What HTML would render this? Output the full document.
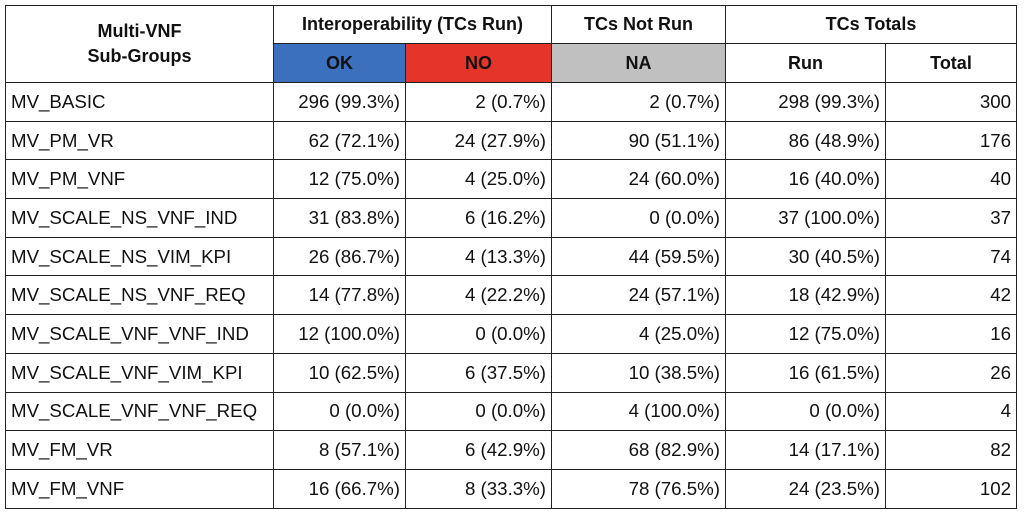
<!DOCTYPE html>
<html><head><style>
body{margin:0;background:#fff;width:1024px;height:516px;overflow:hidden}
table{position:absolute;left:5px;top:5px;border-collapse:collapse;font-family:"Liberation Sans",sans-serif;font-size:18.7px;color:#111}
td{border:1.5px solid #222;padding:0 5px;height:37.7px;white-space:nowrap;text-align:right}
td.l{text-align:left}
th{border:1.5px solid #222;font-weight:bold;font-size:18px;padding:0}
tr.h1 th{height:37px}
tr.h2 th{height:38px}
</style></head><body>
<table>
<colgroup><col style="width:268px"><col style="width:132px"><col style="width:146px"><col style="width:174px"><col style="width:160px"><col style="width:131px"></colgroup>
<tr class="h1"><th rowspan="2" style="vertical-align:middle;line-height:25px">Multi-VNF<br>Sub-Groups</th><th colspan="2">Interoperability (TCs Run)</th><th>TCs Not Run</th><th colspan="2">TCs Totals</th></tr>
<tr class="h2"><th style="background:#3a70bd">OK</th><th style="background:#e5352b">NO</th><th style="background:#c0c0c0">NA</th><th>Run</th><th>Total</th></tr>
<tr><td class="l">MV_BASIC</td><td>296 (99.3%)</td><td>2 (0.7%)</td><td>2 (0.7%)</td><td>298 (99.3%)</td><td>300</td></tr>
<tr><td class="l">MV_PM_VR</td><td>62 (72.1%)</td><td>24 (27.9%)</td><td>90 (51.1%)</td><td>86 (48.9%)</td><td>176</td></tr>
<tr><td class="l">MV_PM_VNF</td><td>12 (75.0%)</td><td>4 (25.0%)</td><td>24 (60.0%)</td><td>16 (40.0%)</td><td>40</td></tr>
<tr><td class="l">MV_SCALE_NS_VNF_IND</td><td>31 (83.8%)</td><td>6 (16.2%)</td><td>0 (0.0%)</td><td>37 (100.0%)</td><td>37</td></tr>
<tr><td class="l">MV_SCALE_NS_VIM_KPI</td><td>26 (86.7%)</td><td>4 (13.3%)</td><td>44 (59.5%)</td><td>30 (40.5%)</td><td>74</td></tr>
<tr><td class="l">MV_SCALE_NS_VNF_REQ</td><td>14 (77.8%)</td><td>4 (22.2%)</td><td>24 (57.1%)</td><td>18 (42.9%)</td><td>42</td></tr>
<tr><td class="l">MV_SCALE_VNF_VNF_IND</td><td>12 (100.0%)</td><td>0 (0.0%)</td><td>4 (25.0%)</td><td>12 (75.0%)</td><td>16</td></tr>
<tr><td class="l">MV_SCALE_VNF_VIM_KPI</td><td>10 (62.5%)</td><td>6 (37.5%)</td><td>10 (38.5%)</td><td>16 (61.5%)</td><td>26</td></tr>
<tr><td class="l">MV_SCALE_VNF_VNF_REQ</td><td>0 (0.0%)</td><td>0 (0.0%)</td><td>4 (100.0%)</td><td>0 (0.0%)</td><td>4</td></tr>
<tr><td class="l">MV_FM_VR</td><td>8 (57.1%)</td><td>6 (42.9%)</td><td>68 (82.9%)</td><td>14 (17.1%)</td><td>82</td></tr>
<tr><td class="l">MV_FM_VNF</td><td>16 (66.7%)</td><td>8 (33.3%)</td><td>78 (76.5%)</td><td>24 (23.5%)</td><td>102</td></tr>
</table>
</body></html>
